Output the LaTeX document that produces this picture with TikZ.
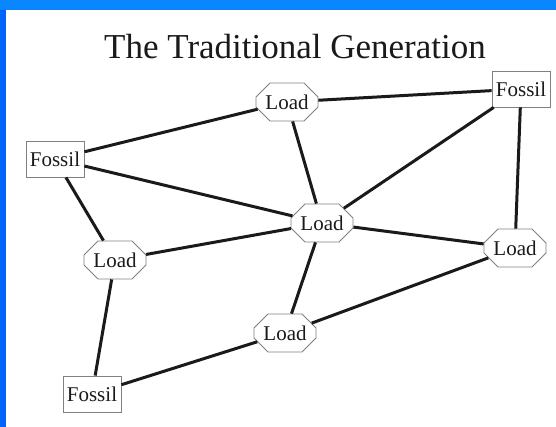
\documentclass[tikz,border=0pt]{standalone}
\usepackage{fontspec}
\setmainfont{Liberation Serif}
\usetikzlibrary{shapes.misc}
\definecolor{frameTop}{HTML}{0A86FF}
\definecolor{frameSide}{HTML}{0064FA}
\definecolor{boxLine}{HTML}{808080}
\definecolor{inkLine}{HTML}{1A1A1A}
\tikzset{
  fossilbox/.style={draw=boxLine, fill=white, line width=0.8pt,
    minimum width=58pt, minimum height=36pt, inner sep=1pt,
    font=\fontsize{21}{23}\selectfont, text=inkLine},
  loadbox/.style={chamfered rectangle, chamfered rectangle sep=7pt,
    draw=boxLine, fill=white, line width=0.8pt,
    minimum width=62pt, minimum height=38pt, inner sep=1pt,
    font=\fontsize{21}{23}\selectfont, text=inkLine},
  link/.style={draw=inkLine, line width=3pt},
  titletext/.style={font=\fontsize{35}{40}\selectfont, text=inkLine},
}
\begin{document}
\begin{tikzpicture}[x=1pt, y=-1pt]
    \useasboundingbox (0,0) rectangle (556,427);
    \fill[frameSide] (0,0) rectangle (556,427);
    \fill[frameTop] (0,0) rectangle (556,10);
    \fill[white] (6,10) rectangle (556,427);
    \node[titletext] (title) at (295,47) {The Traditional Generation};
    \node[loadbox] (loadTop) at (287,102) {Load};
    \node[fossilbox] (fossilNE) at (521,89) {Fossil};
    \node[fossilbox] (fossilW) at (55,159) {Fossil};
    \node[loadbox] (loadHub) at (322,223) {Load};
    \node[loadbox] (loadW) at (115,260) {Load};
    \node[loadbox] (loadE) at (515,248) {Load};
    \node[loadbox] (loadS) at (285,333) {Load};
    \node[fossilbox] (fossilSW) at (92,394) {Fossil};
    \draw[link] (fossilW) -- (loadTop);
    \draw[link] (fossilW) -- (loadHub);
    \draw[link] (fossilW) -- (loadW);
    \draw[link] (loadTop) -- (fossilNE);
    \draw[link] (loadTop) -- (loadHub);
    \draw[link] (fossilNE) -- (loadHub);
    \draw[link] (fossilNE) -- (loadE);
    \draw[link] (loadW) -- (loadHub);
    \draw[link] (loadHub) -- (loadE);
    \draw[link] (loadHub) -- (loadS);
    \draw[link] (loadW) -- (fossilSW);
    \draw[link] (fossilSW) -- (loadS);
    \draw[link] (loadS) -- (loadE);
  \end{tikzpicture}
\end{document}
